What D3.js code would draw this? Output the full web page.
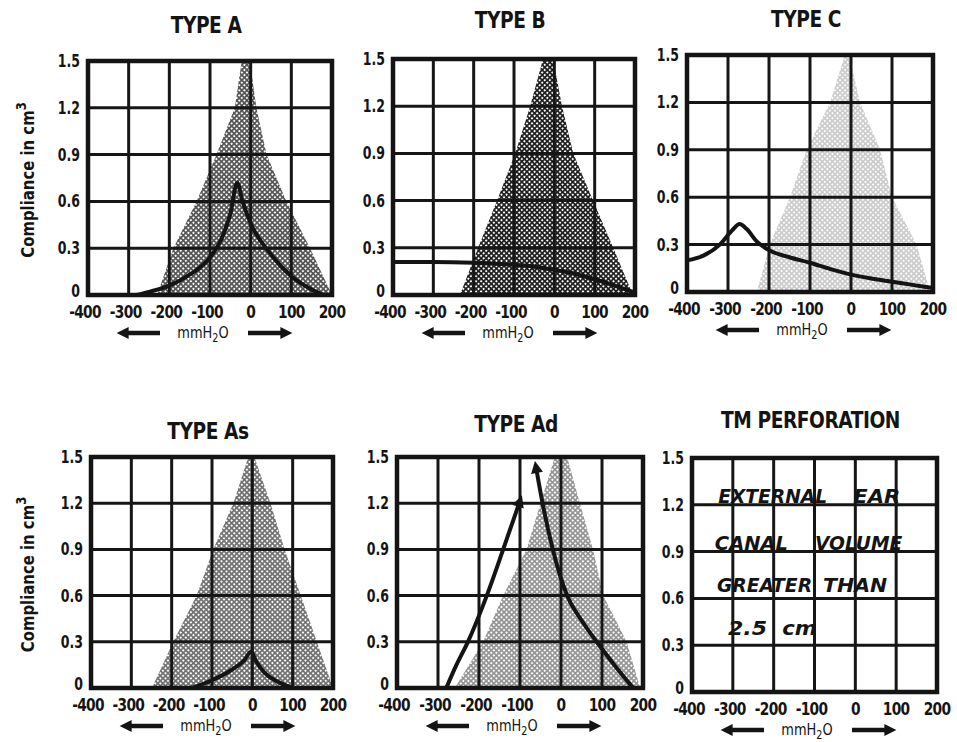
<!DOCTYPE html>
<html lang="en">
<head>
<meta charset="UTF-8"/>
<title>Tympanogram types</title>
<script src="https://d3js.org/d3.v7.min.js"></script>
<style>
  body { margin: 0; background: #fff; }
  svg text { font-family: "DejaVu Sans Condensed", "Liberation Sans", Arial, sans-serif; font-weight: bold; fill: #141414; }
</style>
</head>
<body>
<div id="chart"></div>
<script>
// axis ticks shared by all six panels
var xTicks = [-400, -300, -200, -100, 0, 100, 200];
var yTicks = [0, 0.3, 0.6, 0.9, 1.2, 1.5];
var yTickLabels = ["0", "0.3", "0.6", "0.9", "1.2", "1.5"];
var titles = ["TYPE A", "TYPE B", "TYPE C", "TYPE As", "TYPE Ad", "TM PERFORATION"];

// shaded normal region of each panel (outline, left edge then right edge)
var normalA = [[-230,0],[-190,0.3],[-133,0.6],[-84,0.9],[-39,1.2],[-22,1.5],[-2,1.5],[14,1.2],[39,0.9],[88,0.6],[146,0.3],[200,0]];
var normalB = [[-234,0],[-189,0.3],[-142,0.6],[-97,0.9],[-60,1.2],[-28,1.5],[-3,1.5],[19,1.2],[47,0.9],[96,0.6],[146,0.3],[195,0]];
var normalC = [[-230,0],[-198,0.3],[-149,0.6],[-108,0.9],[-51,1.2],[-15,1.5],[-5,1.5],[22,1.2],[71,0.9],[100,0.6],[160,0.3],[193,0]];
var normalAs = [[-249,0],[-196,0.3],[-138,0.6],[-97,0.9],[-47,1.2],[-10,1.5],[5,1.5],[45,1.2],[80,0.9],[120,0.6],[160,0.3],[200,0]];
var normalAd = [[-259,0],[-190,0.3],[-141,0.6],[-84,0.9],[-50,1.2],[-15,1.5],[15,1.5],[46,1.2],[78,0.9],[103,0.6],[160,0.3],[193,0]];

// tympanogram curves (pressure mmH2O, compliance cm3)
var curveA = [[-280,0],[-250,0.02],[-200,0.06],[-150,0.13],[-100,0.24],[-70,0.37],[-50,0.52],[-33,0.72],[-20,0.6],[0,0.46],[50,0.26],[100,0.12],[150,0.035],[178,0]];
var curveB = [[-400,0.21],[-300,0.21],[-200,0.205],[-120,0.195],[-50,0.18],[0,0.16],[50,0.135],[100,0.1],[150,0.06],[200,0.015]];
var curveC = [[-400,0.2],[-360,0.23],[-320,0.3],[-290,0.39],[-272,0.43],[-255,0.4],[-230,0.32],[-200,0.265],[-150,0.22],[-100,0.185],[-50,0.145],[0,0.11],[50,0.085],[100,0.065],[150,0.045],[200,0.025]];
var curveAs = [[-150,0],[-100,0.05],[-50,0.12],[-20,0.18],[-3,0.235],[10,0.17],[30,0.1],[60,0.045],[100,0]];
var curveAdLeft = [[-280,0],[-255,0.15],[-227,0.3],[-181,0.6],[-141,0.9],[-102,1.2]];
var curveAdRight = [[-60,1.42],[-45,1.2],[-20,0.9],[15,0.6],[50,0.44],[87,0.3],[130,0.15],[176,0]];

// handwritten note in the perforation panel
var noteWords = ["EXTERNAL", "EAR", "CANAL", "VOLUME", "GREATER", "THAN", "2.5", "cm"];
var noteX0 = [-336, -5, -344, -99, -339, -79, -312, -179];
var noteX1 = [-69, 110, -165, 115, -106, 78, -216, -94];
var noteY = [1.2, 1.2, 0.9, 0.9, 0.63, 0.63, 0.35, 0.35];

var width = 957, height = 742;

// where each panel sits on the page
var panels = [
  { left: 88,  top: 61,  w: 244, h: 234, titleY: 33,  shade: normalA,  shadeOp: 0.72, curves: [curveA],  yTitle: true },
  { left: 393, top: 59,  w: 242, h: 236, titleY: 28,  shade: normalB,  shadeOp: 0.95, curves: [curveB] },
  { left: 687, top: 55,  w: 246, h: 237, titleY: 27,  shade: normalC,  shadeOp: 0.22, curves: [curveC] },
  { left: 91,  top: 457, w: 242, h: 231, titleY: 439, shade: normalAs, shadeOp: 0.6,  curves: [curveAs], yTitle: true },
  { left: 397, top: 457, w: 246, h: 231, titleY: 432, shade: normalAd, shadeOp: 0.45, curves: [curveAdLeft, curveAdRight], arrows: true },
  { left: 692, top: 458, w: 245, h: 234, titleY: 428, shade: null,     curves: [], note: true }
];

var svg = d3.select("#chart").append("svg")
  .attr("width", width)
  .attr("height", height);

var defs = svg.append("defs");

// diamond halftone used for the shaded regions
var pat = defs.append("pattern")
  .attr("id", "hatch")
  .attr("patternUnits", "userSpaceOnUse")
  .attr("width", 3.6)
  .attr("height", 3.6)
  .attr("patternTransform", "rotate(45)");
pat.append("rect").attr("width", 3.6).attr("height", 1.7).attr("fill", "#111");
pat.append("rect").attr("width", 1.7).attr("height", 3.6).attr("fill", "#111");

defs.append("marker")
  .attr("id", "arrowHead")
  .attr("viewBox", "0 0 10 10")
  .attr("refX", 3)
  .attr("refY", 5)
  .attr("markerUnits", "userSpaceOnUse")
  .attr("markerWidth", 15)
  .attr("markerHeight", 12)
  .attr("orient", "auto-start-reverse")
  .append("path")
  .attr("d", "M0,0 L10,5 L0,10 z")
  .attr("fill", "#141414");

// condensed look: squeeze text horizontally around its anchor
function squeeze(px, py, sx) {
  return "translate(" + px + "," + py + ") scale(" + sx + ",1)";
}

panels.forEach(function(p, i) {
  var x = d3.scaleLinear().domain([-400, 200]).range([p.left, p.left + p.w]);
  var y = d3.scaleLinear().domain([0, 1.5]).range([p.top + p.h, p.top]);
  var g = svg.append("g");

  // title
  g.append("text")
    .attr("transform", squeeze(p.left + p.w / 2 - 4, p.titleY, 0.9))
    .attr("text-anchor", "middle")
    .style("font-size", "23px")
    .style("letter-spacing", "-0.5px")
    .text(titles[i]);

  // shaded normal area
  if (p.shade) {
    g.append("path")
      .datum(p.shade)
      .attr("d", d3.line().x(function(d) { return x(d[0]); }).y(function(d) { return y(d[1]); }))
      .attr("fill", "url(#hatch)")
      .attr("opacity", p.shadeOp);
  }

  // grid
  g.selectAll(".vline")
    .data(xTicks)
    .enter()
    .append("line")
    .attr("x1", function(d) { return x(d); })
    .attr("x2", function(d) { return x(d); })
    .attr("y1", p.top)
    .attr("y2", p.top + p.h)
    .attr("stroke", "#161616")
    .attr("stroke-width", 3);

  g.selectAll(".hline")
    .data(yTicks)
    .enter()
    .append("line")
    .attr("x1", p.left)
    .attr("x2", p.left + p.w)
    .attr("y1", function(d) { return y(d); })
    .attr("y2", function(d) { return y(d); })
    .attr("stroke", "#161616")
    .attr("stroke-width", 3);

  g.append("rect")
    .attr("x", p.left)
    .attr("y", p.top)
    .attr("width", p.w)
    .attr("height", p.h)
    .attr("fill", "none")
    .attr("stroke", "#141414")
    .attr("stroke-width", 4.5);

  // curves
  var line = d3.line()
    .x(function(d) { return x(d[0]); })
    .y(function(d) { return y(d[1]); })
    .curve(d3.curveMonotoneX);

  p.curves.forEach(function(c, k) {
    var path = g.append("path")
      .datum(c)
      .attr("d", line)
      .attr("fill", "none")
      .attr("stroke", "#141414")
      .attr("stroke-width", 4)
      .attr("stroke-linejoin", "round");
    if (p.arrows) {
      if (k === 0) path.attr("marker-end", "url(#arrowHead)");
      else path.attr("marker-start", "url(#arrowHead)");
    }
  });

  // y tick labels
  g.selectAll(".ylab")
    .data(yTicks)
    .enter()
    .append("text")
    .attr("transform", function(d) { return squeeze(p.left - 8, y(d) + (d === 0 ? 2 : 6), 0.82); })
    .attr("text-anchor", "end")
    .style("font-size", "17px")
    .text(function(d, j) { return yTickLabels[j]; });

  // x tick labels
  g.selectAll(".xlab")
    .data(xTicks)
    .enter()
    .append("text")
    .attr("transform", function(d) { return squeeze(x(d) - (d < 0 ? 3 : 0), p.top + p.h + 23, 0.85); })
    .attr("text-anchor", "middle")
    .style("font-size", "18px")
    .style("letter-spacing", "-0.8px")
    .text(function(d) { return d; });

  // mmH2O with arrows
  var ay = p.top + p.h + 38;
  var unit = g.append("text")
    .attr("transform", squeeze(p.left + 115, ay + 5, 0.9))
    .attr("text-anchor", "middle")
    .style("font-size", "16px")
    .style("font-weight", "normal");
  unit.append("tspan").text("mmH");
  unit.append("tspan").attr("dy", 4).style("font-size", "12px").text("2");
  unit.append("tspan").attr("dy", -4).text("O");

  g.append("line")
    .attr("x1", p.left + 72).attr("x2", p.left + 37)
    .attr("y1", ay).attr("y2", ay)
    .attr("stroke", "#141414").attr("stroke-width", 4.5)
    .attr("marker-end", "url(#arrowHead)");
  g.append("line")
    .attr("x1", p.left + 160).attr("x2", p.left + 196)
    .attr("y1", ay).attr("y2", ay)
    .attr("stroke", "#141414").attr("stroke-width", 4.5)
    .attr("marker-end", "url(#arrowHead)");

  // y axis title on the left column
  if (p.yTitle) {
    var yt = g.append("text")
      .attr("transform", "translate(34," + (p.top + p.h / 2 + 2) + ") rotate(-90) scale(0.92,1)")
      .attr("text-anchor", "middle")
      .style("font-size", "18px");
    yt.append("tspan").text("Compliance in cm");
    yt.append("tspan").attr("dy", -8).style("font-size", "14px").text("3");
  }

  // handwritten note
  if (p.note) {
    g.selectAll(".note")
      .data(noteWords)
      .enter()
      .append("text")
      .attr("x", function(d, j) { return x(noteX0[j]); })
      .attr("y", function(d, j) { return y(noteY[j]) - 2; })
      .attr("textLength", function(d, j) { return x(noteX1[j]) - x(noteX0[j]); })
      .attr("lengthAdjust", "spacingAndGlyphs")
      .style("font-family", "'DejaVu Sans', sans-serif")
      .style("font-style", "italic")
      .style("font-size", "19px")
      .text(function(d) { return d; });
  }
});
</script>
</body>
</html>
